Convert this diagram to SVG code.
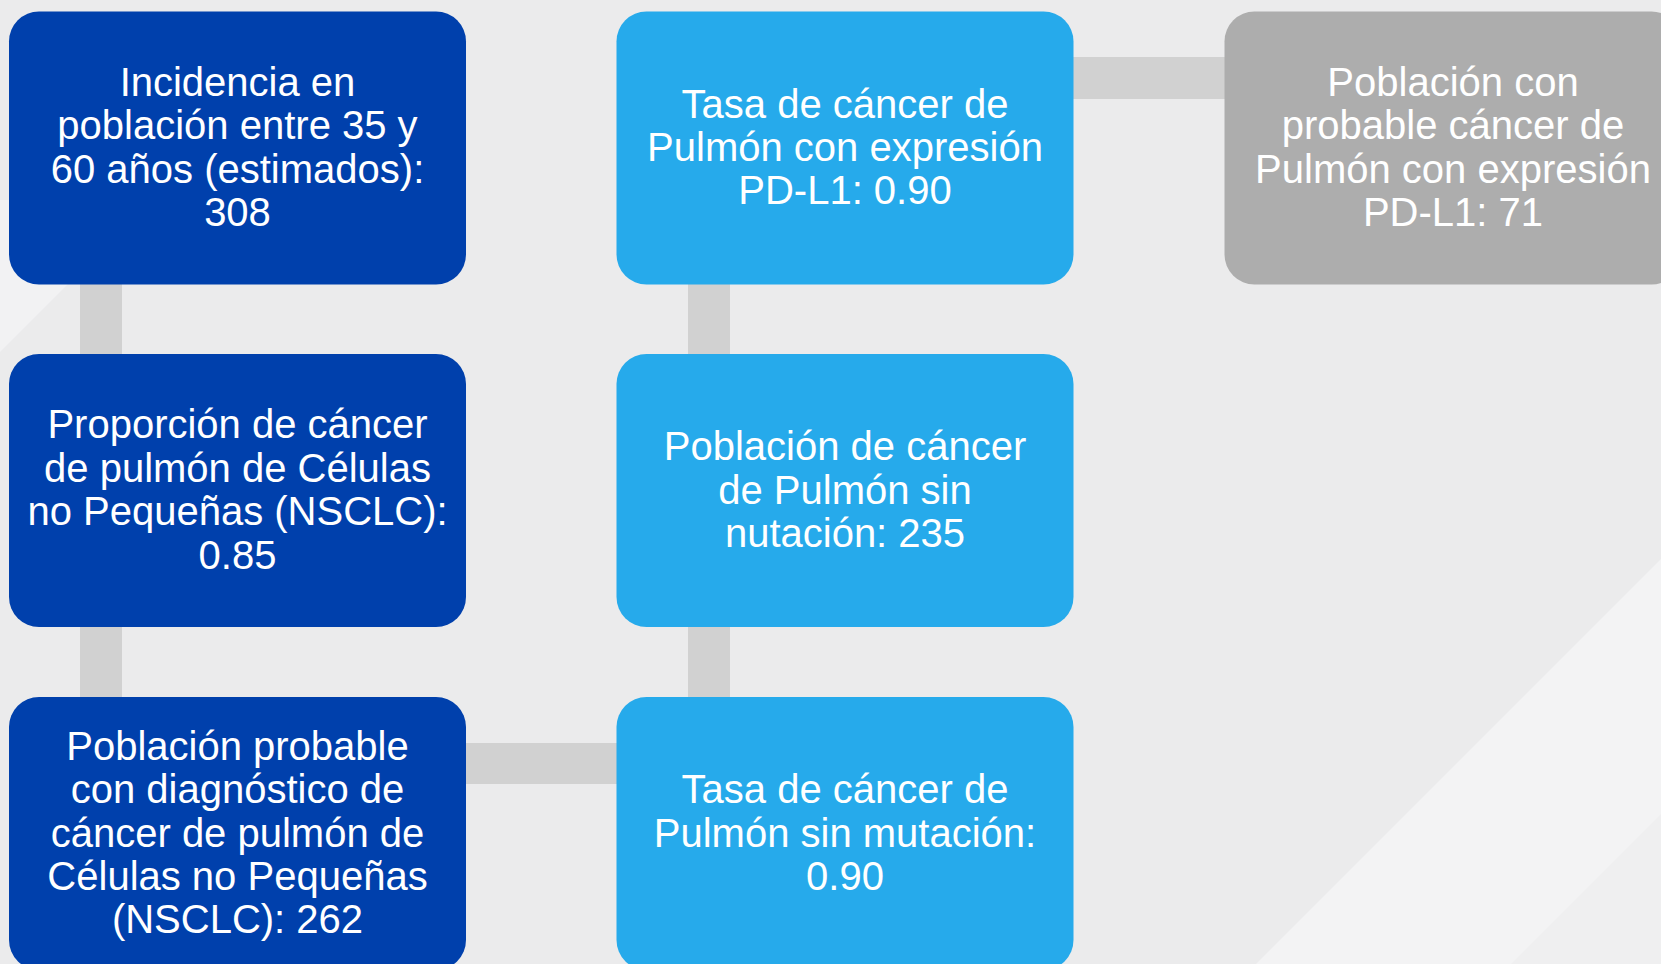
<svg xmlns="http://www.w3.org/2000/svg" width="1661" height="964" viewBox="0 0 1661 964">
  <style>
    .dark { fill: #0040AC; }
    .light { fill: #26AAEB; }
    .grey { fill: #ADADAD; }
    .conn { fill: #D1D1D1; }
    text { font-family: "Liberation Sans", Arial, sans-serif; font-size: 40px; fill: #FFFFFF; text-anchor: middle; }
  </style>
  <rect x="0" y="0" width="1661" height="964" fill="#EBEBEC"/>
  <g id="background">
    <polygon points="0,200 152,200 0,352" fill="#F2F2F3"/>
    <polygon points="1661,559 1661,964 1256,964" fill="#F3F3F4"/>
    <polygon points="1661,814 1661,964 1511,964" fill="#EFEFF0"/>
  </g>
  <g id="connectors">
    <rect class="conn" x="80" y="280" width="42" height="80"/>
    <rect class="conn" x="80" y="620" width="42" height="82"/>
    <rect class="conn" x="688" y="280" width="42" height="80"/>
    <rect class="conn" x="688" y="620" width="42" height="82"/>
    <rect class="conn" x="1068" y="57" width="162" height="42"/>
    <rect class="conn" x="460" y="743" width="162" height="41"/>
  </g>
  <g id="n1">
    <rect class="dark" x="9" y="11.5" width="457" height="273" rx="30"/>
    <text x="237.5" y="96">Incidencia en</text>
    <text x="237.5" y="139.4">población entre 35 y</text>
    <text x="237.5" y="182.8">60 años (estimados):</text>
    <text x="237.5" y="226.2">308</text>
  </g>
  <g id="n2">
    <rect class="dark" x="9" y="354" width="457" height="273" rx="30"/>
    <text x="237.5" y="438.4">Proporción de cáncer</text>
    <text x="237.5" y="481.8">de pulmón de Células</text>
    <text x="237.5" y="525.2">no Pequeñas (NSCLC):</text>
    <text x="237.5" y="568.6">0.85</text>
  </g>
  <g id="n3">
    <rect class="dark" x="9" y="697" width="457" height="273" rx="30"/>
    <text x="237.5" y="759.7">Población probable</text>
    <text x="237.5" y="803.1">con diagnóstico de</text>
    <text x="237.5" y="846.5">cáncer de pulmón de</text>
    <text x="237.5" y="889.9">Células no Pequeñas</text>
    <text x="237.5" y="933.3">(NSCLC): 262</text>
  </g>
  <g id="n4">
    <rect class="light" x="616.5" y="11.5" width="457" height="273" rx="30"/>
    <text x="845" y="117.6">Tasa de cáncer de</text>
    <text x="845" y="161">Pulmón con expresión</text>
    <text x="845" y="204.4">PD-L1: 0.90</text>
  </g>
  <g id="n5">
    <rect class="light" x="616.5" y="354" width="457" height="273" rx="30"/>
    <text x="845" y="460.1">Población de cáncer</text>
    <text x="845" y="503.5">de Pulmón sin</text>
    <text x="845" y="546.9">nutación: 235</text>
  </g>
  <g id="n6">
    <rect class="light" x="616.5" y="697" width="457" height="273" rx="30"/>
    <text x="845" y="803.1">Tasa de cáncer de</text>
    <text x="845" y="846.5">Pulmón sin mutación:</text>
    <text x="845" y="889.9">0.90</text>
  </g>
  <g id="n7">
    <rect class="grey" x="1224.5" y="11.5" width="457" height="273" rx="30"/>
    <text x="1453" y="96">Población con</text>
    <text x="1453" y="139.4">probable cáncer de</text>
    <text x="1453" y="182.8">Pulmón con expresión</text>
    <text x="1453" y="226.2">PD-L1: 71</text>
  </g>
</svg>
